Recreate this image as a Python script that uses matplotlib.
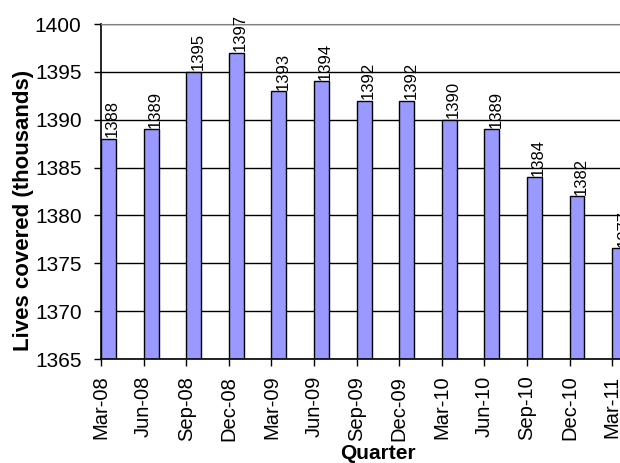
import matplotlib
matplotlib.use('Agg')
import matplotlib.pyplot as plt
import numpy as np

plt.rcParams['font.family'] = ['Liberation Sans', 'DejaVu Sans']

quarters = ['Mar-08', 'Jun-08', 'Sep-08', 'Dec-08', 'Mar-09', 'Jun-09', 'Sep-09',
            'Dec-09', 'Mar-10', 'Jun-10', 'Sep-10', 'Dec-10', 'Mar-11']
lives = [1388, 1389, 1395, 1397, 1393, 1394, 1392, 1392, 1390, 1389, 1384, 1382, 1376.6]

x = np.arange(len(quarters))
width = 0.35

fig = plt.figure(figsize=(6.2, 4.63), dpi=100)
# plot area runs past the right edge, so the last quarter is cut off
ax = fig.add_axes([0.163, 0.2246, 0.893, 0.7235])

ax.set_axisbelow(True)
ax.yaxis.grid(True, color='black', linewidth=1)
rects = ax.bar(x, lives, width, align='edge', color='#9999FF',
               edgecolor='black', linewidth=1, zorder=2)

for rect, v in zip(rects, lives):
    ax.annotate('%.0f' % v,
                xy=(rect.get_x() + rect.get_width() / 2, rect.get_height()),
                xytext=(3, 1), textcoords='offset points',
                rotation=90, ha='center', va='bottom', fontsize=12,
                annotation_clip=False)

ax.set_xlim(0, len(quarters))
ax.set_ylim(1365, 1400)
ax.set_yticks(np.arange(1365, 1401, 5))
ax.set_xticks(x)
ax.set_xticklabels(quarters, rotation=90, fontsize=14.5)
ax.tick_params(axis='y', labelsize=15, length=5, width=1, direction='out', pad=9)
ax.tick_params(axis='x', length=5, width=1, direction='out', pad=7)

ax.spines['top'].set_color('#808080')
ax.spines['right'].set_visible(False)
ax.spines['left'].set_linewidth(1.2)
ax.spines['bottom'].set_linewidth(1.2)

ax.set_ylabel('Lives covered (thousands)', fontsize=16, fontweight='bold')
ax.yaxis.set_label_coords(-(101 - 23) / (0.893 * 620), (359 - 210) / 335)
ax.yaxis.label.set_va('center')
ax.set_xlabel('Quarter', fontsize=15, fontweight='bold')
ax.xaxis.set_label_coords(0.5, -(453 - 359) / 335)
ax.xaxis.label.set_va('center')

fig.savefig('out.png', dpi=100)
